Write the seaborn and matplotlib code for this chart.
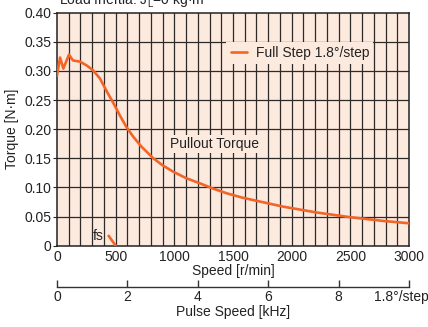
import numpy as np
import pandas as pd
import matplotlib
matplotlib.use("Agg")
import matplotlib.pyplot as plt
import matplotlib.transforms as mtransforms
import seaborn as sns

# Pullout torque curve
speed_rpm = [0, 26, 54, 102, 136, 196, 256, 307, 366, 424, 480, 540, 594, 650,
             720, 821, 900, 991, 1100, 1219, 1330, 1446, 1570, 1702, 1929, 2213,
             2497, 2781, 3000]
torque_nm = [0.292, 0.323, 0.304, 0.328, 0.318, 0.316, 0.309, 0.301, 0.287, 0.265,
             0.245, 0.222, 0.203, 0.187, 0.170, 0.150, 0.138, 0.127, 0.116, 0.107,
             0.098, 0.090, 0.083, 0.077, 0.067, 0.057, 0.049, 0.0425, 0.0385]

# fs marker line
fs_speed = [440, 500]
fs_torque = [0.017, 0.0]

speed_ticks = [0, 500, 1000, 1500, 2000, 2500, 3000]
torque_ticks = [0, 0.05, 0.10, 0.15, 0.20, 0.25, 0.30, 0.35, 0.40]
torque_labels = ["0", "0.05", "0.10", "0.15", "0.20", "0.25", "0.30", "0.35", "0.40"]
khz_ticks = [0, 2, 4, 6, 8, 10]
khz_labels = ["0", "2", "4", "6", "8", "1.8°/step"]

sns.set_style("ticks")
plt.rcParams["font.family"] = ["Liberation Sans", "DejaVu Sans"]
plt.rcParams["font.size"] = 10

orange = "#f26526"
bg = "#fdeadf"
gridc = "#2e2a28"
txt = "#222222"
fs = 10

fig = plt.figure(figsize=(4.28, 3.27), dpi=100)
ax = fig.add_axes([0.1332, 0.2486, 0.8224, 0.7126])
ax.set_facecolor(bg)

df = pd.DataFrame({"speed": speed_rpm, "torque": torque_nm})
sns.lineplot(data=df, x="speed", y="torque", ax=ax, color=orange, lw=1.9,
             label="Full Step 1.8°/step", sort=False, zorder=3)
sns.lineplot(x=fs_speed, y=fs_torque, ax=ax, color=orange, lw=1.9, zorder=3)

ax.set_xlim(0, 3000)
ax.set_ylim(0, 0.40)
for v in np.arange(100, 3000, 100):
    ax.axvline(v, color=gridc, lw=0.9, zorder=1)
for h in torque_ticks[1:-1]:
    ax.axhline(h, color=gridc, lw=0.9, zorder=1)

ax.set_xticks(speed_ticks)
ax.set_yticks(torque_ticks)
ax.set_yticklabels(torque_labels)
ax.tick_params(axis="x", length=0, pad=3, labelsize=fs, labelcolor=txt)
ax.tick_params(axis="y", length=3, width=0.8, pad=1, labelsize=fs, labelcolor=txt)
for s in ax.spines.values():
    s.set_visible(True)
    s.set_color("#222222")
    s.set_linewidth(1.1)

ax.set_xlabel("Speed [r/min]", fontsize=fs, labelpad=0, color=txt)
ax.set_ylabel("Torque [N·m]", fontsize=fs, labelpad=4, color=txt)

leg = ax.legend(loc="center", bbox_to_anchor=(0.69, 0.827), frameon=True,
                fontsize=fs, handlelength=1.2, handletextpad=0.6,
                borderpad=0.3, fancybox=False)
leg.get_frame().set_facecolor(bg)
leg.get_frame().set_edgecolor("none")
leg.get_frame().set_alpha(1)
for t in leg.get_texts():
    t.set_color(txt)

ax.text(1346, 0.175, "Pullout Torque", ha="center", va="center", fontsize=fs,
        color=txt, zorder=4,
        bbox=dict(boxstyle="square,pad=0.15", facecolor=bg, edgecolor="none"))
ax.text(350, 0.017, "fs", ha="center", va="center", fontsize=fs,
        color=txt, zorder=4)

fig.text(0.138, 0.986, "Load Inertia: J$_\\mathregular{L}$=0 kg·m$^\\mathregular{2}$",
         ha="left", va="baseline", fontsize=fs, color=txt)

# pulse speed axis
ax2 = fig.add_axes([0.1332, 0.1223, 0.8224, 0.001])
ax2.set_xlim(0, 10)
ax2.set_yticks([])
for k in ["left", "right", "top"]:
    ax2.spines[k].set_visible(False)
ax2.spines["bottom"].set_color("#333333")
ax2.spines["bottom"].set_linewidth(1.0)
ax2.set_xticks(khz_ticks)
ax2.set_xticklabels(khz_labels)
ax2.tick_params(axis="x", direction="in", length=5, width=1.0, color="#333333",
                pad=2, labelsize=fs, labelcolor=txt)
last = ax2.get_xticklabels()[-1]
last.set_transform(last.get_transform() +
                   mtransforms.ScaledTranslation(-0.08, 0, fig.dpi_scale_trans))
ax2.set_xlabel("Pulse Speed [kHz]", fontsize=fs, labelpad=1, color=txt)

fig.savefig("out.png", dpi=100)
